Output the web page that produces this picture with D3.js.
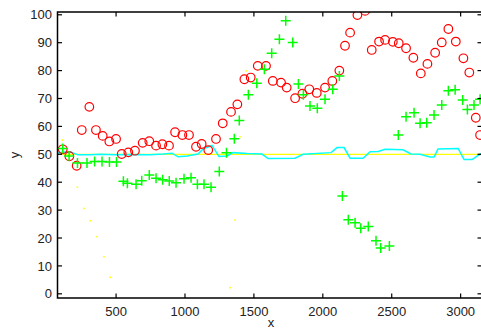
<!DOCTYPE html>
<html>
<head>
<meta charset="utf-8">
<script src="https://cdn.jsdelivr.net/npm/d3@7"></script>
<style>
  html, body { margin: 0; padding: 0; background: #fff; }
  svg { display: block; }
  text { font-family: "Liberation Sans", Arial, sans-serif; fill: #222; }
</style>
</head>
<body>
<svg id="chart" width="481" height="328"></svg>
<script>
// red circles
const circleX = [113, 161, 214, 251, 306, 354, 403, 451, 500, 541, 589, 637, 693, 741, 790, 836, 884, 928, 981, 1029,
  1080, 1121, 1169, 1225, 1274, 1334, 1380, 1431, 1477, 1528, 1588, 1637, 1697, 1738, 1799, 1852, 1902, 1956, 2016, 2069,
  2120, 2161, 2198, 2251, 2307, 2355, 2408, 2452, 2508, 2551, 2604, 2657, 2711, 2759, 2815, 2863, 2911, 2965, 3020, 3063,
  3110, 3141];
const circleY = [51.8, 49.3, 45.9, 58.7, 67.0, 58.7, 56.6, 54.6, 55.5, 50.1, 50.7, 51.3, 54.1, 54.7, 53.1, 53.6, 53.1, 57.9, 56.9, 56.9,
  52.7, 53.7, 51.5, 55.5, 61.1, 65.2, 67.9, 76.9, 77.5, 81.7, 81.7, 76.3, 75.7, 73.9, 70.1, 71.7, 73.3, 72.0, 73.9, 76.3,
  80.0, 88.9, 93.6, 99.9, 101.4, 87.4, 90.4, 91.0, 90.3, 89.8, 88.0, 84.6, 79.0, 82.4, 86.4, 90.1, 94.9, 90.4, 84.4, 79.3,
  63.1, 56.9];

// green plus signs
const plusX = [113, 159, 220, 289, 344, 398, 452, 503, 553, 582, 645, 686, 741, 790, 838, 886, 935, 993, 1044, 1090,
  1138, 1189, 1249, 1301, 1358, 1394, 1460, 1521, 1576, 1629, 1685, 1731, 1782, 1823, 1859, 1907, 1960, 2016, 2072, 2120,
  2142, 2185, 2234, 2275, 2330, 2386, 2420, 2483, 2548, 2604, 2662, 2706, 2754, 2807, 2863, 2911, 2960, 3015, 3049, 3097,
  3141];
const plusY = [52.1, 49.4, 46.9, 46.9, 47.4, 47.4, 47.2, 47.2, 40.3, 39.6, 39.3, 40.5, 42.6, 41.4, 40.9, 40.4, 39.8, 41.2, 41.6, 39.3,
  39.3, 38.2, 43.8, 50.6, 55.6, 62.1, 71.3, 75.5, 80.5, 86.2, 91.2, 97.9, 90.1, 75.2, 71.3, 67.3, 66.5, 69.7, 73.3, 78.1,
  35.1, 26.5, 25.5, 23.5, 24.1, 19.0, 16.4, 17.1, 56.9, 63.5, 64.9, 61.1, 61.3, 64.1, 67.7, 72.8, 73.1, 69.5, 66.1, 67.7,
  69.7];

// cyan line
const cyanX = [75, 108, 166, 224, 311, 383, 500, 587, 746, 841, 906, 950, 1015, 1095, 1131, 1196, 1247, 1305, 1349, 1450,
  1559, 1603, 1799, 1857, 2060, 2103, 2154, 2198, 2292, 2343, 2401, 2452, 2582, 2640, 2706, 2778, 2807, 2836, 2982, 3025,
  3083, 3148];
const cyanY = [50.4, 50.7, 50.9, 49.8, 49.8, 50.0, 49.8, 49.9, 49.8, 50.1, 50.4, 49.1, 49.4, 50.1, 51.9, 53.2, 49.2, 49.4, 50.6, 50.3,
  50.1, 48.5, 48.6, 50.0, 50.6, 52.4, 52.4, 48.6, 48.6, 50.9, 51.0, 51.8, 51.6, 50.1, 50.0, 49.0, 49.0, 51.9, 52.1, 48.1,
  48.1, 50.3];

// yellow level line and yellow dots
const yellowLineX = [110, 3155];
const yellowLineY = [50, 50];
const dotX = [110, 219, 267, 313, 362, 412, 458, 1327, 1363, 1399, 1443];
const dotY = [55.1, 38.2, 30.6, 26.2, 20.5, 13.3, 5.9, 2.2, 26.5, 56.3, 79.9];

const xTicks = [500, 1000, 1500, 2000, 2500, 3000];
const yTicks = [0, 10, 20, 30, 40, 50, 60, 70, 80, 90, 100];

const svg = d3.select("#chart");
const margin = { top: 12, right: -1, bottom: 30, left: 57.5 },
  width = 481 - margin.left - margin.right,
  height = 328 - margin.top - margin.bottom;

const x = d3.scaleLinear().domain([75, 3155]).range([0, width]);
const y = d3.scaleLinear().domain([-1.5, 101]).range([height, 0]);

const g = svg.append("g").attr("transform", `translate(${margin.left},${margin.top})`);

svg.append("defs").append("clipPath").attr("id", "plot-clip")
  .append("rect").attr("x", 0).attr("y", 0).attr("width", width).attr("height", height);

const plot = g.append("g").attr("clip-path", "url(#plot-clip)");

const zip = (xs, ys) => xs.map((v, i) => [v, ys[i]]);
const line = d3.line().x((d) => x(d[0])).y((d) => y(d[1]));

// yellow line at 50
plot.append("path")
  .datum(zip(yellowLineX, yellowLineY))
  .attr("fill", "none")
  .attr("stroke", "#ffff00")
  .attr("stroke-width", 1.3)
  .attr("d", line);

// cyan line
plot.append("path")
  .datum(zip(cyanX, cyanY))
  .attr("fill", "none")
  .attr("stroke", "#00ffff")
  .attr("stroke-width", 1.5)
  .attr("d", line);

// yellow dots
plot.selectAll(".dot")
  .data(zip(dotX, dotY))
  .join("rect")
  .attr("x", (d) => x(d[0]) - 0.8)
  .attr("y", (d) => y(d[1]) - 0.8)
  .attr("width", 1.6)
  .attr("height", 1.6)
  .attr("fill", "#ffff00");

// red circles
plot.selectAll(".circ")
  .data(zip(circleX, circleY))
  .join("circle")
  .attr("cx", (d) => x(d[0]))
  .attr("cy", (d) => y(d[1]))
  .attr("r", 4.3)
  .attr("fill", "none")
  .attr("stroke", "#ff0000")
  .attr("stroke-width", 1.2);

// green plus signs
plot.selectAll(".plus")
  .data(zip(plusX, plusY))
  .join("path")
  .attr("d", (d) => `M${x(d[0]) - 5},${y(d[1])}H${x(d[0]) + 5}M${x(d[0])},${y(d[1]) - 5}V${y(d[1]) + 5}`)
  .attr("stroke", "#00ff00")
  .attr("stroke-width", 1.5)
  .attr("fill", "none");

// frame
g.append("rect")
  .attr("x", 0).attr("y", 0)
  .attr("width", width).attr("height", height)
  .attr("fill", "none")
  .attr("stroke", "#000")
  .attr("stroke-width", 1.5);

// ticks (inward, mirrored)
const tickLen = 4.5;
xTicks.forEach((t) => {
  g.append("line").attr("x1", x(t)).attr("x2", x(t)).attr("y1", height).attr("y2", height - tickLen)
    .attr("stroke", "#000").attr("stroke-width", 1.2);
  g.append("line").attr("x1", x(t)).attr("x2", x(t)).attr("y1", 0).attr("y2", tickLen)
    .attr("stroke", "#000").attr("stroke-width", 1.2);
  g.append("text").attr("x", x(t)).attr("y", height + 17.5)
    .attr("text-anchor", "middle").style("font-size", "13px").text(t);
});
yTicks.forEach((t) => {
  g.append("line").attr("x1", 0).attr("x2", tickLen).attr("y1", y(t)).attr("y2", y(t))
    .attr("stroke", "#000").attr("stroke-width", 1.2);
  g.append("line").attr("x1", width).attr("x2", width - tickLen).attr("y1", y(t)).attr("y2", y(t))
    .attr("stroke", "#000").attr("stroke-width", 1.2);
  g.append("text").attr("x", -5.5).attr("y", y(t)).attr("dy", "0.36em")
    .attr("text-anchor", "end").style("font-size", "13px").text(t);
});

// axis labels
svg.append("text").attr("x", 271).attr("y", 326.5)
  .attr("text-anchor", "middle").style("font-size", "13px").text("x");
svg.append("text").attr("transform", "translate(19,155) rotate(-90)")
  .attr("text-anchor", "middle").style("font-size", "13px").text("y");
</script>
</body>
</html>
